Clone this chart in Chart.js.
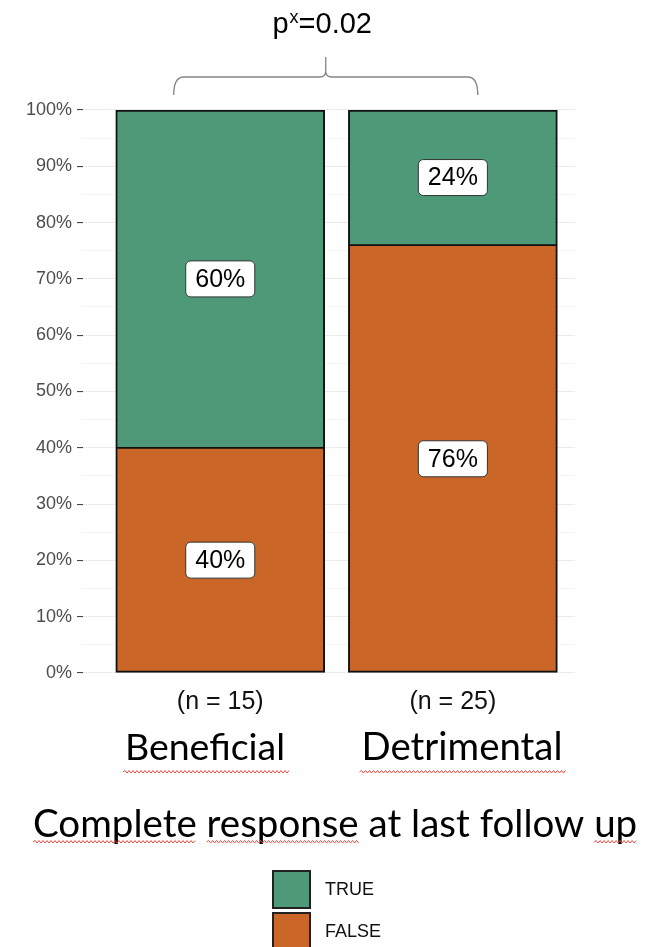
<!DOCTYPE html>
<html>
<head>
<meta charset="utf-8">
<script src="https://cdn.jsdelivr.net/npm/chart.js@4.4.0/dist/chart.umd.min.js"></script>
<style>
  html, body { margin: 0; padding: 0; background: #fff; }
  #wrap { width: 658px; height: 947px; }
</style>
</head>
<body>
<div id="wrap"><canvas id="cr-chart" width="658" height="947"></canvas></div>
<script>
// complete response share per group (percent)
const groups = ['Beneficial', 'Detrimental'];
const groupCounts = ['(n = 15)', '(n = 25)'];
const trueShare = [60, 24];
const falseShare = [40, 76];
const seriesNames = ['TRUE', 'FALSE'];
const pValue = '0.02';
const xTitle = 'Complete response at last follow up';

const GREEN = 'rgb(78,154,120)';
const ORANGE = 'rgb(201,102,40)';
const SANS = '"Liberation Sans", Arial, sans-serif';
const OFFICE = 'Lato, "Open Sans", sans-serif';

function fitSize(ctx, text, family, width) {
    ctx.font = '100px ' + family;
    return 100 * width / ctx.measureText(text).width;
}

function squiggle(ctx, x1, x2, y) {
    ctx.save();
    ctx.strokeStyle = '#e8483f';
    ctx.lineWidth = 1;
    ctx.beginPath();
    let up = true;
    ctx.moveTo(x1, y);
    for (let x = x1 + 2; x <= x2; x += 2) {
        ctx.lineTo(x, up ? y - 1.5 : y + 1);
        up = !up;
    }
    ctx.stroke();
    ctx.restore();
}

// white boxed percentage in the middle of every segment
const segmentLabels = {
    id: 'segmentLabels',
    afterDatasetsDraw(chart) {
        const ctx = chart.ctx;
        ctx.save();
        ctx.font = '25px ' + SANS;
        ctx.textAlign = 'center';
        ctx.textBaseline = 'middle';
        chart.data.datasets.forEach((ds, di) => {
            chart.getDatasetMeta(di).data.forEach((bar, i) => {
                const txt = ds.data[i].y + '%';
                const cx = bar.x;
                const cy = (bar.y + bar.base) / 2;
                const w = ctx.measureText(txt).width + 19;
                const h = 36;
                ctx.beginPath();
                ctx.roundRect(cx - w / 2, cy - h / 2, w, h, 5);
                ctx.fillStyle = '#fff';
                ctx.fill();
                ctx.lineWidth = 1;
                ctx.strokeStyle = '#333';
                ctx.stroke();
                ctx.fillStyle = '#000';
                ctx.fillText(txt, cx, cy + 1);
            });
        });
        ctx.restore();
    }
};

// brace with p-value above, group captions, title and legend below
const annotations = {
    id: 'annotations',
    afterDraw(chart) {
        const ctx = chart.ctx;
        const xs = chart.scales.x;
        const area = chart.chartArea;
        ctx.save();

        // curly brace
        const bl = xs.getPixelForValue(0.8);
        const br = xs.getPixelForValue(2.107);
        const bm = (bl + br) / 2;
        const yEnd = area.top - 15, yMid = area.top - 33, yTip = area.top - 53;
        ctx.strokeStyle = '#858585';
        ctx.lineWidth = 1.3;
        ctx.beginPath();
        ctx.moveTo(bl, yEnd);
        ctx.quadraticCurveTo(bl, yMid, bl + 10, yMid);
        ctx.lineTo(bm - 6, yMid);
        ctx.quadraticCurveTo(bm, yMid, bm, yMid - 6);
        ctx.lineTo(bm, yTip);
        ctx.moveTo(bm, yMid - 6);
        ctx.quadraticCurveTo(bm, yMid, bm + 6, yMid);
        ctx.lineTo(br - 10, yMid);
        ctx.quadraticCurveTo(br, yMid, br, yEnd);
        ctx.stroke();

        // p^x = value
        const big = '29px ' + SANS, small = '18px ' + SANS;
        ctx.fillStyle = '#000';
        ctx.textBaseline = 'alphabetic';
        ctx.textAlign = 'left';
        ctx.font = big;
        const wP = ctx.measureText('p').width;
        const wRest = ctx.measureText('=' + pValue).width;
        ctx.font = small;
        const wX = ctx.measureText('x').width;
        let px = bm - (wP + wX + wRest) / 2 - 4;
        const base = 33;
        ctx.font = big;
        ctx.fillText('p', px, base);
        px += wP + 1;
        ctx.font = small;
        ctx.fillText('x', px, base - 10);
        px += wX;
        ctx.font = big;
        ctx.fillText('=' + pValue, px, base);

        // counts under bars
        ctx.textAlign = 'center';
        ctx.textBaseline = 'middle';
        ctx.font = '25px ' + SANS;
        ctx.fillStyle = '#111';
        groupCounts.forEach((t, i) => {
            ctx.fillText(t, xs.getPixelForValue(i + 1), area.bottom + 29);
        });

        // group names
        ctx.textBaseline = 'alphabetic';
        ctx.fillStyle = '#000';
        const nameCenters = [205, 462];
        const nameWidths = [160, 201];
        groups.forEach((t, i) => {
            const size = fitSize(ctx, t, OFFICE, nameWidths[i]);
            ctx.font = size.toFixed(1) + 'px ' + OFFICE;
            ctx.fillText(t, nameCenters[i], area.bottom + 87);
            const w = nameWidths[i];
            squiggle(ctx, nameCenters[i] - w / 2 - 2, nameCenters[i] + w / 2 + 4, area.bottom + 99);
        });

        // axis caption
        const tSize = fitSize(ctx, xTitle, OFFICE, 604);
        ctx.font = tSize.toFixed(1) + 'px ' + OFFICE;
        ctx.textAlign = 'left';
        const tx = 33;
        ctx.fillText(xTitle, tx, area.bottom + 164);
        const wordX = (s) => tx + ctx.measureText(s).width;
        squiggle(ctx, tx, wordX('Complete'), area.bottom + 169);
        squiggle(ctx, wordX('Complete '), wordX('Complete response'), area.bottom + 169);
        squiggle(ctx, wordX('Complete response at last follow '), wordX(xTitle), area.bottom + 169);

        // legend keys
        const keys = chart.data.datasets.slice().reverse();
        ctx.font = '18px ' + SANS;
        ctx.textBaseline = 'middle';
        keys.forEach((ds, i) => {
            const ky = 871 + i * 42;
            ctx.fillStyle = ds.backgroundColor;
            ctx.fillRect(273, ky, 37, 37);
            ctx.strokeStyle = '#222';
            ctx.lineWidth = 2;
            ctx.strokeRect(273, ky, 37, 37);
            ctx.fillStyle = '#111';
            ctx.fillText(ds.label, 325, ky + 19);
        });
        ctx.restore();
    }
};

function build() {
    const ctx = document.getElementById('cr-chart').getContext('2d');
    new Chart(ctx, {
        type: 'bar',
        data: {
            datasets: [{
                label: seriesNames[1],
                data: falseShare.map((v, i) => ({ x: i + 1, y: v })),
                backgroundColor: ORANGE,
                borderColor: '#111',
                borderWidth: { top: 1.2, left: 2, right: 2, bottom: 2 },
                borderSkipped: false,
                barThickness: 209
            }, {
                label: seriesNames[0],
                data: trueShare.map((v, i) => ({ x: i + 1, y: v })),
                backgroundColor: GREEN,
                borderColor: '#111',
                borderWidth: { top: 2, left: 2, right: 2, bottom: 1.2 },
                borderSkipped: false,
                barThickness: 209
            }]
        },
        options: {
            responsive: false,
            animation: false,
            layout: { padding: { top: 110, bottom: 274, left: 0, right: 83 } },
            plugins: {
                legend: { display: false },
                tooltip: { enabled: false }
            },
            scales: {
                x: {
                    type: 'linear',
                    stacked: true,
                    offset: false,
                    bounds: 'data',
                    min: 0.41,
                    max: 2.525,
                    grid: { offset: false },
                    display: false
                },
                y: {
                    stacked: true,
                    min: 0,
                    max: 100,
                    afterFit: (s) => { s.width = 83; },
                    border: { display: false },
                    grid: {
                        color: (c) => (c.tick && c.tick.value % 10 === 0) ? '#ebebeb' : '#f4f4f4',
                        tickColor: (c) => (c.tick && c.tick.value % 10 === 0) ? '#444' : 'rgba(0,0,0,0)',
                        tickLength: 6,
                        lineWidth: 1.1
                    },
                    ticks: {
                        stepSize: 5,
                        autoSkip: false,
                        padding: 5,
                        color: '#4d4d4d',
                        font: { family: SANS, size: 18 },
                        callback: (v) => v % 10 === 0 ? v + '%' : ''
                    }
                }
            }
        },
        plugins: [segmentLabels, annotations]
    });
}

document.fonts.load('40px Lato').then(build, build);
</script>
</body>
</html>
